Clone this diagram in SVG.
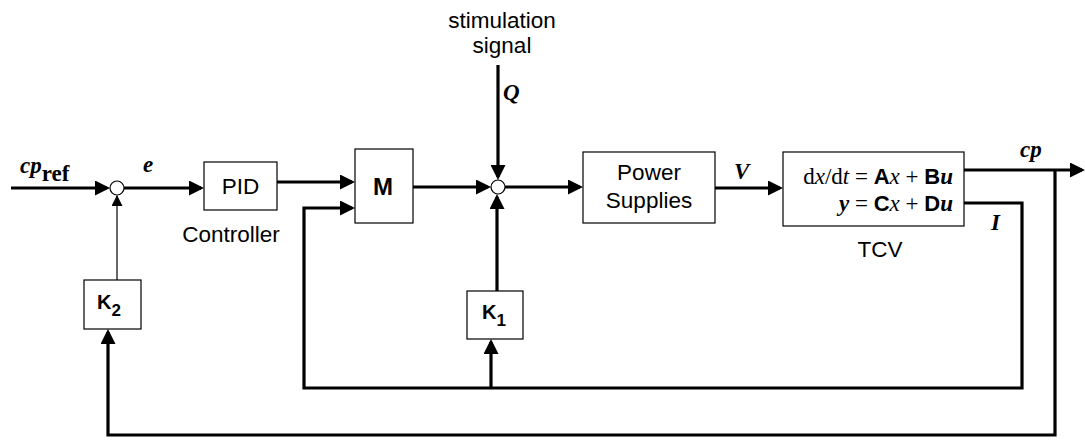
<svg xmlns="http://www.w3.org/2000/svg" width="1085" height="441" viewBox="0 0 1085 441">
<style>
.box{fill:#fff;stroke:#000;stroke-width:1.2}
.sum{fill:#fff;stroke:#000;stroke-width:1.2}
.w{fill:none;stroke:#000;stroke-width:3.2;stroke-linejoin:miter;stroke-linecap:butt}
.thin{fill:none;stroke:#000;stroke-width:1.2}
.sans{font-family:"Liberation Sans",Arial,sans-serif;font-size:22.5px;fill:#000}
.bsans{font-family:"Liberation Sans",Arial,sans-serif;font-weight:bold;fill:#000}
.math{font-family:"Liberation Serif","Times New Roman",serif;font-size:23px;fill:#000}
.bi{font-weight:bold;font-style:italic}
.it{font-style:italic}
.b{font-weight:bold}
</style>
<defs>
<marker id="ah" markerUnits="userSpaceOnUse" markerWidth="15" markerHeight="15" refX="12" refY="7.5" orient="auto">
<path d="M0,0 L15,7.5 L0,15 z" fill="#000"/>
</marker>
<marker id="ahs" markerUnits="userSpaceOnUse" markerWidth="11" markerHeight="11" refX="10" refY="5.5" orient="auto">
<path d="M0,0 L11,5.5 L0,11 z" fill="#000"/>
</marker>
</defs>

<g id="connectors">
<path class="w" d="M11,188 H107" marker-end="url(#ah)"/>
<path class="w" d="M124,188 H201" marker-end="url(#ah)"/>
<path class="thin" d="M117,280 V196" marker-end="url(#ahs)"/>
<path class="w" d="M277,182 H352" marker-end="url(#ah)"/>
<path class="w" d="M413,187 H488" marker-end="url(#ah)"/>
<path class="w" d="M498,65 V177" marker-end="url(#ah)"/>
<path class="w" d="M497,291 V197" marker-end="url(#ah)"/>
<path class="w" d="M505,187 H580" marker-end="url(#ah)"/>
<path class="w" d="M715,188 H780" marker-end="url(#ah)"/>
<path class="w" d="M964,170 H1082" marker-end="url(#ah)"/>
<path class="w" d="M1055,170 V435 H108 V332" marker-end="url(#ah)"/>
<path class="w" d="M964,203 H1022 V388 H304 V208 H352" marker-end="url(#ah)"/>
<path class="w" d="M491,388 V342" marker-end="url(#ah)"/>
</g>

<g id="sum1"><circle class="sum" cx="117" cy="188" r="7"/></g>
<g id="sum2"><circle class="sum" cx="498" cy="187" r="7"/></g>

<g id="pid">
<rect class="box" x="204" y="162" width="73" height="48"/>
<text class="sans" x="240.5" y="194" text-anchor="middle">PID</text>
<text class="sans" x="231" y="242" text-anchor="middle">Controller</text>
</g>

<g id="m">
<rect class="box" x="355" y="149" width="58" height="74"/>
<text class="bsans" font-size="24" x="383" y="195" text-anchor="middle">M</text>
</g>

<g id="power">
<rect class="box" x="583" y="152" width="132" height="71"/>
<text class="sans" x="649" y="180" text-anchor="middle">Power</text>
<text class="sans" x="649" y="208" text-anchor="middle">Supplies</text>
</g>

<g id="tcv">
<rect class="box" x="783" y="152" width="181" height="74"/>
<text class="math" x="953" y="184" text-anchor="end">d<tspan class="it">x</tspan>/d<tspan class="it">t</tspan> = <tspan class="bsans" font-size="22">A</tspan><tspan class="it">x</tspan> + <tspan class="bsans" font-size="22">B</tspan><tspan class="bi">u</tspan></text>
<text class="math" x="953" y="211" text-anchor="end"><tspan class="bi">y</tspan>  = <tspan class="bsans" font-size="22">C</tspan><tspan class="it">x</tspan> + <tspan class="bsans" font-size="22">D</tspan><tspan class="bi">u</tspan></text>
<text class="sans" x="880" y="257" text-anchor="middle">TCV</text>
</g>

<g id="k2">
<rect class="box" x="84" y="280" width="57" height="49"/>
<text class="bsans" font-size="20" x="97" y="309">K<tspan font-size="17" dy="7">2</tspan></text>
</g>

<g id="k1">
<rect class="box" x="467" y="291" width="56" height="48"/>
<text class="bsans" font-size="20" x="482" y="319">K<tspan font-size="17" dy="7">1</tspan></text>
</g>

<g id="labels">
<text class="sans" x="502" y="28" text-anchor="middle">stimulation</text>
<text class="sans" x="502" y="53" text-anchor="middle">signal</text>
<text class="math bi" x="503" y="100">Q</text>
<text class="math" x="20" y="173"><tspan class="bi">cp</tspan><tspan class="b" dy="8">ref</tspan></text>
<text class="math bi" x="143" y="172">e</text>
<text class="math bi" x="734" y="179">V</text>
<text class="math bi" x="991" y="230">I</text>
<text class="math bi" x="1020" y="157">cp</text>
</g>
</svg>
